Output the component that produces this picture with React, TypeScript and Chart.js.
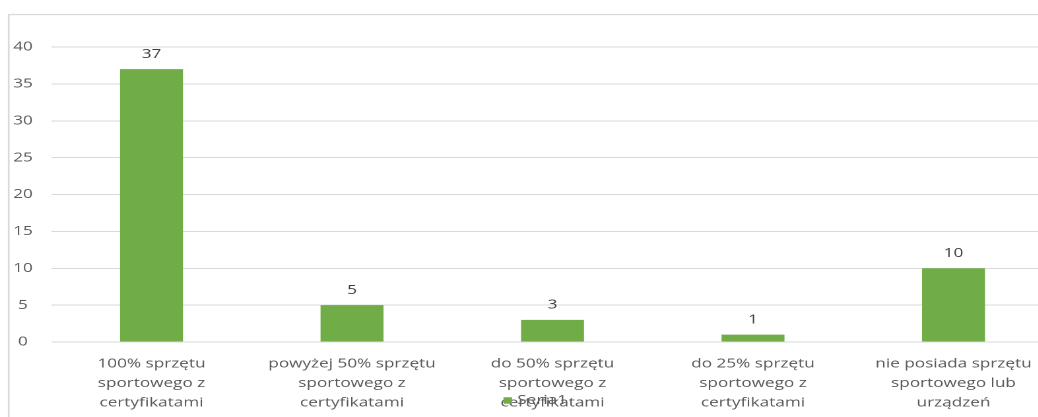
import React, { useEffect, useRef } from "react";
import { Chart, registerables } from "chart.js";

Chart.register(...registerables);

const categories: string[][] = [
  ["100% sprzętu", "sportowego z", "certyfikatami"],
  ["powyżej 50% sprzętu", "sportowego z", "certyfikatami"],
  ["do 50% sprzętu", "sportowego z", "certyfikatami"],
  ["do 25% sprzętu", "sportowego z", "certyfikatami"],
  ["nie posiada sprzętu", "sportowego lub", "urządzeń"],
];
const seriesName = "Seria1";
const seriesValues = [37, 5, 3, 1, 10];
const yMin = 0;
const yMax = 40;
const yStep = 5;

const SX = 1.32;
const FULL_W = 1070;
const W = Math.round(FULL_W / SX);
const H = 417;
const FONT = '"Open Sans", "Noto Sans", sans-serif';
const GREEN = "#70AD47";

const frame = {
  id: "frame",
  beforeDraw(chart: any) {
    const ctx = chart.ctx;
    ctx.save();
    ctx.strokeStyle = "#d9d9d9";
    ctx.lineWidth = 1.3;
    ctx.strokeRect(6.6, 14.5, chart.width + 50, chart.height + 50);
    ctx.restore();
  },
};

const valueLabels = {
  id: "valueLabels",
  afterDatasetsDraw(chart: any) {
    const ctx = chart.ctx;
    const meta = chart.getDatasetMeta(0);
    const data = chart.data.datasets[0].data;
    ctx.save();
    ctx.font = `13px ${FONT}`;
    ctx.fillStyle = "#404040";
    ctx.textAlign = "center";
    ctx.textBaseline = "middle";
    meta.data.forEach((bar: any, i: number) => {
      ctx.fillText(String(data[i]), bar.x, bar.y - 15);
    });
    ctx.restore();
  },
};

const bottomLegend = {
  id: "bottomLegend",
  afterDraw(chart: any) {
    const ctx = chart.ctx;
    const ds = chart.data.datasets[0];
    ctx.save();
    ctx.font = `13px ${FONT}`;
    const tw = ctx.measureText(ds.label).width;
    const box = 6.5;
    const gap = 4;
    const total = box + gap + tw;
    const x0 = chart.width / 2 - total / 2;
    const cy = 400.5;
    ctx.fillStyle = ds.backgroundColor;
    ctx.fillRect(x0, cy - box / 2, box, box);
    ctx.fillStyle = "#595959";
    ctx.textAlign = "left";
    ctx.textBaseline = "middle";
    ctx.fillText(ds.label, x0 + box + gap, cy);
    ctx.restore();
  },
};

export default function App() {
  const ref = useRef<HTMLCanvasElement | null>(null);

  useEffect(() => {
    if (!ref.current) return;
    const plotLeft = 51.25 / SX;
    const plotRight = 1053.75 / SX;
    const chart = new Chart(ref.current, {
      type: "bar",
      data: {
        labels: categories,
        datasets: [
          {
            label: seriesName,
            data: seriesValues,
            backgroundColor: GREEN,
            borderWidth: 0,
            categoryPercentage: 1,
            barPercentage: 0.314,
          },
        ],
      },
      options: {
        animation: false,
        responsive: false,
        devicePixelRatio: 2,
        layout: { padding: { top: 47, right: W - plotRight, left: 0, bottom: 0 } },
        plugins: {
          legend: { display: false },
          tooltip: { enabled: false },
        },
        scales: {
          x: {
            grid: { display: false, drawTicks: false },
            border: { display: false },
            ticks: {
              color: "#595959",
              font: { family: FONT, size: 13, lineHeight: 1.5 },
              padding: 12,
              maxRotation: 0,
              autoSkip: false,
            },
            afterFit: (s: any) => {
              s.height = 75;
            },
          },
          y: {
            min: yMin,
            max: yMax,
            ticks: {
              stepSize: yStep,
              color: "#595959",
              font: { family: FONT, size: 13 },
              padding: 14,
              crossAlign: "center",
            },
            grid: { color: "#d9d9d9", drawTicks: false, lineWidth: 1 },
            border: { display: false },
            afterFit: (s: any) => {
              s.width = plotLeft;
            },
          },
        },
      } as any,
      plugins: [frame, valueLabels, bottomLegend],
    });
    return () => chart.destroy();
  }, []);

  return (
    <div
      style={{
        position: "fixed",
        left: 0,
        top: 0,
        width: "100vw",
        height: "100vh",
        overflow: "hidden",
        background: "#fff",
      }}
    >
      <div style={{ transform: `scaleX(${SX})`, transformOrigin: "0 0", width: W, height: H }}>
        <canvas ref={ref} width={W} height={H} style={{ width: W, height: H, display: "block" }} />
      </div>
    </div>
  );
}
